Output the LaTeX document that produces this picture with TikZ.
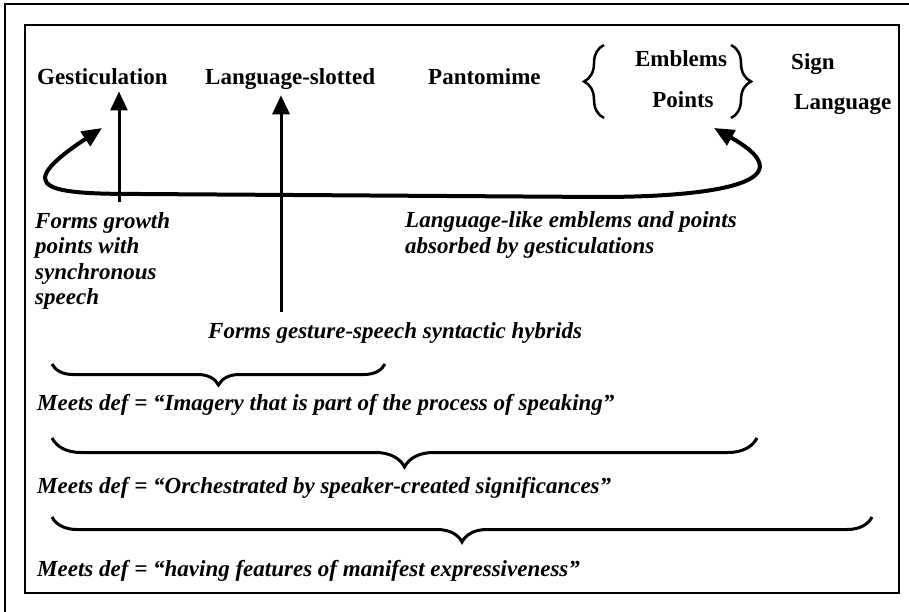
\documentclass[tikz,border=0pt]{standalone}
\usepackage{fontspec}
\setmainfont{Liberation Serif}
\usetikzlibrary{arrows.meta}
\usetikzlibrary{decorations.pathreplacing}
\usetikzlibrary{positioning}

\tikzset{
  term/.style={font=\fontsize{23}{25.5}\selectfont\bfseries, anchor=base west, inner sep=0pt},
  remark/.style={font=\fontsize{23}{25.5}\selectfont\bfseries\itshape, anchor=base west, inner sep=0pt, align=left},
  uparrow/.style={line width=3pt, -{Triangle[width=17pt,length=19pt]}},
  swing/.style={line width=4pt, {Triangle[width=17pt,length=20pt]}-{Triangle[width=17pt,length=20pt]}},
  bracebar/.style={line width=3pt, decorate, decoration={brace, mirror, amplitude=#1}},
  sidebrace/.style={line width=2.5pt, decorate, decoration={brace, amplitude=#1}},
}

\begin{document}
\begin{tikzpicture}[x=1pt,y=-1pt]
\useasboundingbox (0,0) rectangle (909,612);
\draw[line width=2pt] (5,612) -- (5,4) -- (909,4);
\draw[line width=1.2pt] (25,25) rectangle (899,593);

% top row
\node[term] (gest) at (37,85) {Gesticulation};
\node[term] (slot) at (205,85) {Language-slotted};
\node[term] (panto) at (428,85) {Pantomime};
\node[term, anchor=base] (embl) at (681,67) {Emblems};
\node[term, anchor=base] (pnts) at (683,108) {Points};
\draw[sidebrace=20pt] (604,118) -- (604,45);
\draw[sidebrace=20pt] (731,45) -- (731,118);
\node[term] (sign) at (791,70) {Sign};
\node[term] (signlang) at (794,110) {Language};

% notes under the arrows (base = last line)
\node[remark] (growth) at (35,304.5) {Forms growth\\points with\\synchronous\\speech};
\node[remark] (absorb) at (405,253.5) {Language-like emblems and points\\absorbed by gesticulations};
\node[remark] (hybrid) at (208,338) {Forms gesture-speech syntactic hybrids};

\coordinate (a1) at (119,202);
\coordinate (a2) at (281,0);
\draw[uparrow, shorten >=6pt] (a1) -- (a1 |- gest.south);
\draw[uparrow, shorten <=10pt, shorten >=5pt] (hybrid.north -| a2) -- (slot.south -| a2);

\coordinate (ltip) at (102,128);
\coordinate (rtip) at (714,128);
\draw[swing] (ltip) .. controls (8,190) and (50,194) .. (140,194) -- (600,197) .. controls (700,197) and (815,185) .. (rtip);

% definitions
\draw[bracebar=21pt] (52,364) -- (385,364);
\node[remark] (def1) at (37,410) {Meets def = “Imagery that is part of the process of speaking”};
\draw[bracebar=29pt] (52,438) -- (757,438);
\node[remark] (def2) at (37,493) {Meets def = “Orchestrated by speaker-created significances”};
\draw[bracebar=25pt] (52,517) -- (872,517);
\node[remark] (def3) at (37,576) {Meets def = “having features of manifest expressiveness”};
\end{tikzpicture}
\end{document}
